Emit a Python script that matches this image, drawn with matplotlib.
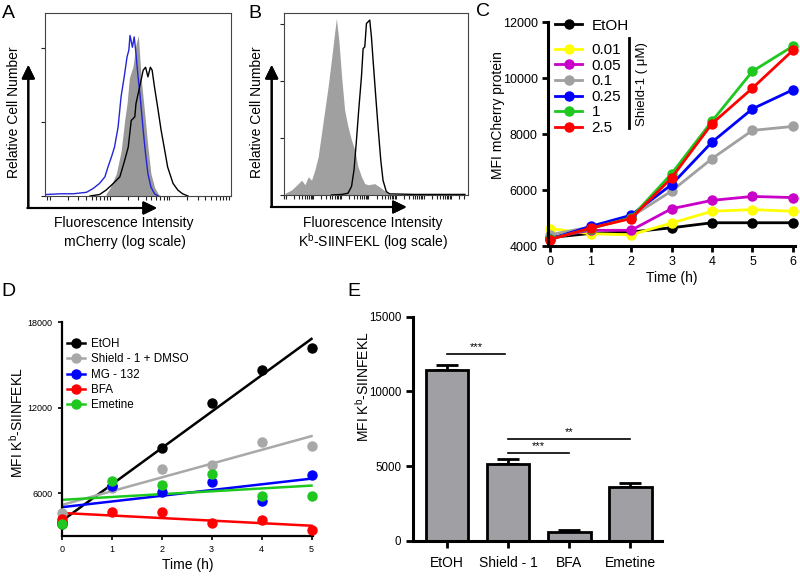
import numpy as np
import matplotlib
matplotlib.use("Agg")
import matplotlib.pyplot as plt
from matplotlib.lines import Line2D

plt.rcParams["font.family"] = ["Liberation Sans", "DejaVu Sans"]
plt.rcParams["mathtext.fontset"] = "custom"
plt.rcParams["mathtext.rm"] = "Liberation Sans"
plt.rcParams["mathtext.it"] = "Liberation Sans:italic"

W, H = 800, 578

# ---- Panel A: mCherry histograms (x = log10 intensity, y = relative count)
a_grey_log = [0.94, 1.0, 1.11, 1.19, 1.25, 1.29, 1.33, 1.39, 1.44, 1.48, 1.5, 1.53, 1.58, 1.64, 1.69, 1.75, 1.81, 1.86]
a_grey_cnt = [3, 10, 30, 60, 102, 125, 160, 175, 205, 217, 192, 156, 116, 66, 30, 12, 3, 0]
a_blue_log = [-0.06, 0.17, 0.39, 0.61, 0.72, 0.83, 0.92, 0.97, 1.03, 1.08, 1.14, 1.19, 1.25, 1.29, 1.32, 1.34,
              1.38, 1.41, 1.44, 1.47, 1.51, 1.56, 1.6, 1.64, 1.69, 1.75, 1.81]
a_blue_cnt = [2, 3, 3, 5, 10, 17, 26, 39, 53, 66, 93, 134, 165, 188, 197, 217, 201, 215, 192, 165, 134, 89,
              57, 30, 12, 3, 0]
a_black_log = [0.67, 0.83, 0.94, 1.06, 1.17, 1.25, 1.31, 1.36, 1.42, 1.44, 1.5, 1.56, 1.6, 1.64, 1.68, 1.71,
               1.75, 1.81, 1.86, 1.92, 1.97, 2.06, 2.14, 2.22, 2.31]
a_black_cnt = [0, 2, 8, 17, 26, 48, 66, 102, 107, 125, 147, 170, 174, 161, 174, 170, 147, 116, 89, 62, 39,
               17, 8, 3, 0]

# ---- Panel B: Kb-SIINFEKL histograms
b_grey_log = [-0.02, 0.22, 0.46, 0.58, 0.7, 0.82, 0.94, 1.06, 1.18, 1.3, 1.42, 1.54, 1.66, 1.76, 1.84, 1.93,
              2.03, 2.14, 2.26, 2.39, 2.51, 2.62, 2.75, 2.87, 2.99, 3.23, 3.47, 3.71, 3.83]
b_grey_cnt = [3, 9, 20, 26, 18, 32, 26, 44, 67, 108, 149, 190, 237, 278, 310, 272, 208, 149, 120, 96, 79, 50,
              32, 20, 18, 20, 12, 3, 0]
b_black_log = [1.66, 2.03, 2.26, 2.39, 2.48, 2.56, 2.65, 2.75, 2.81, 2.87, 2.93, 3.05, 3.11, 3.17, 3.26, 3.35,
               3.45, 3.53, 3.65, 3.77, 4.67, 5.63, 6.5]
b_black_cnt = [0, 1, 3, 15, 44, 91, 149, 208, 257, 260, 301, 307, 278, 237, 178, 120, 61, 26, 6, 2, 1, 1, 1]

# ---- Panel C: MFI mCherry over time
c_time = [0, 1, 2, 3, 4, 5, 6]
c_labels = ["EtOH", "0.01", "0.05", "0.1", "0.25", "1", "2.5"]
c_colors = ["#000000", "#ffff00", "#c800c8", "#a0a0a0", "#0000ff", "#1ec81e", "#ff0000"]
c_etoh = [4300, 4450, 4500, 4650, 4830, 4830, 4830]
c_001 = [4620, 4440, 4400, 4820, 5240, 5300, 5240]
c_005 = [4300, 4560, 4560, 5330, 5630, 5770, 5730]
c_01 = [4400, 4680, 5040, 5960, 7120, 8130, 8270]
c_025 = [4250, 4700, 5100, 6190, 7710, 8900, 9580]
c_1 = [4250, 4620, 5010, 6580, 8460, 10240, 11140]
c_25 = [4230, 4640, 4980, 6430, 8370, 9640, 10990]
c_series = [c_etoh, c_001, c_005, c_01, c_025, c_1, c_25]

# ---- Panel D: MFI Kb-SIINFEKL over time
d_time = [0, 1, 2, 3, 4, 5]
d_labels = ["EtOH", "Shield - 1 + DMSO", "MG - 132", "BFA", "Emetine"]
d_colors = ["#000000", "#a8a8a8", "#0000ff", "#ff0000", "#1ec81e"]
d_etoh = [3815, 6500, 9150, 12320, 14670, 16150]
d_shield = [4590, 6330, 7690, 8000, 9570, 9340]
d_mg132 = [4000, 6520, 6050, 6800, 5460, 7290]
d_bfa = [4170, 4680, 4710, 3930, 4100, 3420]
d_emetine = [3860, 6870, 6590, 7340, 5770, 5770]
d_series = [d_etoh, d_shield, d_mg132, d_bfa, d_emetine]

# ---- Panel E: bar chart
e_cats = ["EtOH", "Shield - 1", "BFA", "Emetine"]
e_vals = [11430, 5140, 600, 3575]
e_err = [330, 330, 110, 265]
# (left bar, right bar, bar height, stars)
e_sig = [(0, 0.95, 12500, "***"), (1, 2, 5850, "***"), (1, 3, 6790, "**")]


def px_axes(fig, left, top, right, bottom):
    return fig.add_axes([left / W, 1 - bottom / H, (right - left) / W, (bottom - top) / H])


def fx(x):
    return x / W


def fy(y):
    return 1 - y / H


def arrow(fig, x0, y0, x1, y1):
    fig.add_artist(plt.annotate("", xy=(fx(x1), fy(y1)), xytext=(fx(x0), fy(y0)),
                                xycoords="figure fraction", textcoords="figure fraction",
                                arrowprops=dict(arrowstyle="-|>,head_length=0.45,head_width=0.22",
                                                lw=1.5, color="k", mutation_scale=18,
                                                shrinkA=0, shrinkB=0)))


def style_hist(ax, xlim, ylim, yticks):
    ax.set_xscale("log")
    ax.set_xlim(*xlim)
    ax.set_ylim(*ylim)
    ax.set_yticks(yticks)
    ax.tick_params(axis="both", which="both", direction="out", length=3, width=0.8,
                   labelbottom=False, labelleft=False, colors="#222222")
    ax.xaxis.set_major_locator(matplotlib.ticker.LogLocator(base=10, numticks=20))
    ax.xaxis.set_minor_locator(matplotlib.ticker.LogLocator(base=10, subs=np.arange(2, 10), numticks=20))
    for s in ax.spines.values():
        s.set_linewidth(0.8)
        s.set_color("#444444")


fig = plt.figure(figsize=(W / 100, H / 100), dpi=100)

# ================= A =================
axA = px_axes(fig, 45, 12.7, 231, 196)
axA.fill_between(10 ** np.array(a_grey_log), a_grey_cnt, color="#999999", lw=0)
axA.plot(10 ** np.array(a_blue_log), a_blue_cnt, color="#2424d8", lw=1.0)
axA.plot(10 ** np.array(a_black_log), a_black_cnt, color="#000000", lw=1.0)
style_hist(axA, (10 ** -0.083, 10 ** 3.03), (0, 247.7), [0, 100, 200])
arrow(fig, 28.3, 208, 28.3, 65)
arrow(fig, 27.5, 208, 157, 208)
fig.text(fx(14), fy(112), "Relative Cell Number", rotation=90, ha="center", va="center", fontsize=10)
fig.text(fx(124), fy(223), "Fluorescence Intensity", ha="center", va="center", fontsize=10)
fig.text(fx(125), fy(242), "mCherry (log scale)", ha="center", va="center", fontsize=10)
fig.text(fx(8), fy(13), "A", ha="center", va="center", fontsize=14)

# ================= B =================
axB = px_axes(fig, 284.3, 12.7, 467.7, 195)
axB.fill_between(10 ** np.array(b_grey_log), b_grey_cnt, color="#a0a0a0", lw=0)
axB.plot(10 ** np.array(b_black_log), b_black_cnt, color="#000000", lw=1.0)
style_hist(axB, (10 ** -0.047, 10 ** 6.6), (0, 320), [0, 100, 200, 300])
arrow(fig, 271.7, 207, 271.7, 65)
arrow(fig, 270.9, 207, 406.7, 207)
fig.text(fx(257), fy(112), "Relative Cell Number", rotation=90, ha="center", va="center", fontsize=10)
fig.text(fx(373), fy(223), "Fluorescence Intensity", ha="center", va="center", fontsize=10)
fig.text(fx(373), fy(242), r"K$^{\mathrm{b}}$-SIINFEKL (log scale)", ha="center", va="center", fontsize=10)
fig.text(fx(255), fy(13), "B", ha="center", va="center", fontsize=14)

# ================= C =================
axC = px_axes(fig, 548, 22, 795, 246)
handles = []
for vals, col, lab in zip(c_series, c_colors, c_labels):
    h, = axC.plot(c_time, vals, color=col, lw=2, marker="o", ms=6.5, mfc=col, mec=col, clip_on=False, label=lab)
    handles.append(h)
axC.set_xlim(-0.05, 6.05)
axC.set_ylim(4000, 12000)
axC.set_xticks(c_time)
axC.set_yticks([4000, 6000, 8000, 10000, 12000])
axC.tick_params(direction="out", length=4, width=2, labelsize=9)
for s in ["top", "right"]:
    axC.spines[s].set_visible(False)
for s in ["left", "bottom"]:
    axC.spines[s].set_linewidth(2.2)
axC.set_xlabel("Time (h)", fontsize=10, labelpad=2)
fig.text(fx(498), fy(115), "MFI mCherry protein", rotation=90, ha="center", va="center", fontsize=10)
leg1 = axC.legend(handles=handles[:1], loc="upper left", bbox_to_anchor=(0.028, 1.015), frameon=False,
                  fontsize=11, handlelength=1.8, handletextpad=0.6, borderpad=0, borderaxespad=0)
axC.add_artist(leg1)
axC.legend(handles=handles[1:], loc="upper left", bbox_to_anchor=(0.028, 0.905), frameon=False,
           fontsize=11, handlelength=1.8, handletextpad=0.6, borderpad=0, borderaxespad=0, labelspacing=0.1)
axC.plot([0.328, 0.328], [0.527, 0.929], transform=axC.transAxes, color="k", lw=2, clip_on=False)
axC.text(0.381, 0.725, "Shield-1 ( μM)", transform=axC.transAxes, rotation=90, ha="center", va="center",
         fontsize=9.5)
fig.text(fx(483), fy(12), "C", ha="center", va="center", fontsize=14)

# ================= D =================
axD = px_axes(fig, 61.7, 322, 313, 536)
t = np.array(d_time)
dh = []
for vals, col, lab in zip(d_series, d_colors, d_labels):
    k, b = np.polyfit(t, vals, 1)
    axD.plot([t[0], t[-1]], [b + k * t[0], b + k * t[-1]], color=col, lw=1.8)
    axD.plot(t, vals, ls="none", marker="o", ms=6.5, color=col, clip_on=False, zorder=3)
    dh.append(Line2D([], [], color=col, lw=1.8, marker="o", ms=6.5, label=lab))
axD.set_xlim(0, 5.03)
axD.set_ylim(3000, 18000)
axD.set_xticks(d_time)
axD.set_yticks([6000, 12000, 18000])
axD.tick_params(direction="out", length=3, width=1.2, labelsize=6.5)
for s in ["top", "right"]:
    axD.spines[s].set_visible(False)
for s in ["left", "bottom"]:
    axD.spines[s].set_linewidth(1.6)
axD.set_xlabel("Time (h)", fontsize=10, labelpad=3)
fig.text(fx(17), fy(423), r"MFI K$^{\mathrm{b}}$-SIINFEKL", rotation=90, ha="center", va="center", fontsize=10)
axD.legend(handles=dh, loc="upper left", bbox_to_anchor=(0.02, 0.925), frameon=False, fontsize=8.4,
           handlelength=1.55, handletextpad=0.5, borderpad=0, borderaxespad=0, labelspacing=0.28)
fig.text(fx(8), fy(292), "D", ha="center", va="center", fontsize=14)

# ================= E =================
axE = px_axes(fig, 413.3, 316.7, 662, 540.7)
xe = np.arange(len(e_cats))
axE.bar(xe, e_vals, width=0.7, color="#a0a0a4", edgecolor="k", lw=2, zorder=2)
axE.errorbar(xe, e_vals, yerr=[np.zeros(len(e_err)), e_err], fmt="none", ecolor="k", elinewidth=2,
             capsize=8, capthick=2, zorder=1)
for x0, x1, yv, stars in e_sig:
    axE.plot([x0, x1], [yv, yv], color="k", lw=1.2)
    axE.text((x0 + x1) / 2, yv + 150, stars, ha="center", va="bottom", fontsize=8)
axE.set_xlim(-0.55, 3.52)
axE.set_ylim(0, 15000)
axE.set_xticks(xe)
axE.set_xticklabels(e_cats, fontsize=10)
axE.set_yticks([0, 5000, 10000, 15000])
axE.tick_params(direction="out", length=5, width=2)
axE.tick_params(axis="x", pad=6)
axE.tick_params(axis="y", labelsize=8.3)
for s in ["top", "right"]:
    axE.spines[s].set_visible(False)
for s in ["left", "bottom"]:
    axE.spines[s].set_linewidth(2.2)
fig.text(fx(363), fy(387), r"MFI K$^{\mathrm{b}}$-SIINFEKL", rotation=90, ha="center", va="center", fontsize=10)
fig.text(fx(354), fy(292), "E", ha="center", va="center", fontsize=14)

fig.savefig("out.png", dpi=100)
